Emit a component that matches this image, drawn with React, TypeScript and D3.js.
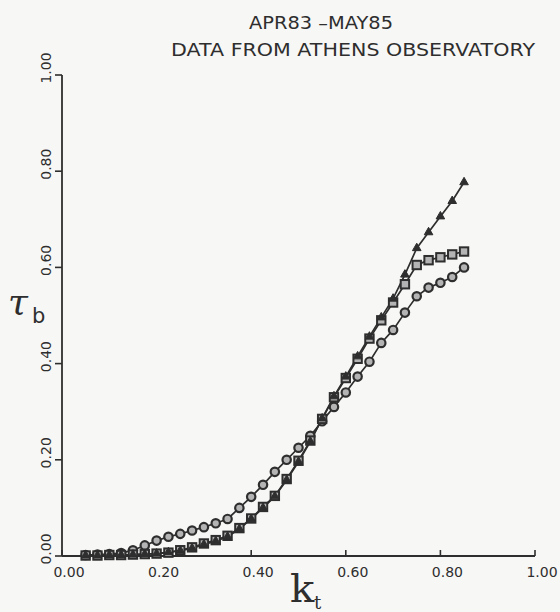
import React from "react";
import * as d3 from "d3";

const kValues = [0.05,0.075,0.1,0.125,0.15,0.175,0.2,0.225,0.25,0.275,0.3,0.325,0.35,0.375,0.4,0.425,0.45,0.475,0.5,0.525,0.55,0.575,0.6,0.625,0.65,0.675,0.7,0.725,0.75,0.775,0.8,0.825,0.85];

const circleSeries = [0.002,0.003,0.004,0.006,0.012,0.022,0.032,0.04,0.046,0.053,0.06,0.068,0.077,0.1,0.123,0.148,0.175,0.2,0.225,0.25,0.28,0.31,0.34,0.373,0.404,0.443,0.47,0.506,0.54,0.558,0.568,0.58,0.6];
const squareSeries = [0.001,0.001,0.002,0.002,0.003,0.004,0.005,0.007,0.012,0.018,0.026,0.033,0.042,0.058,0.078,0.102,0.125,0.16,0.198,0.24,0.285,0.33,0.37,0.41,0.452,0.49,0.527,0.565,0.605,0.615,0.621,0.627,0.633];
const triangleSeries = [0.001,0.001,0.002,0.002,0.003,0.004,0.005,0.008,0.011,0.016,0.024,0.031,0.04,0.056,0.077,0.1,0.124,0.158,0.196,0.238,0.286,0.332,0.373,0.415,0.456,0.496,0.535,0.585,0.64,0.673,0.706,0.738,0.777];

const tickValues = [0, 0.2, 0.4, 0.6, 0.8, 1.0];
const tickLabels = ["0.00", "0.20", "0.40", "0.60", "0.80", "1.00"];
const titleLines = ["APR83 \u2013MAY85", "DATA FROM ATHENS OBSERVATORY"];

const INK = "#2e2e2e";
const FILL = "#b4b4b4";

export default function App() {
  const x = d3.scaleLinear().domain([0, 1]).range([62, 535]);
  const y = d3.scaleLinear().domain([0, 1]).range([556, 75]);
  const line = d3.line<[number, number]>().x(d => x(d[0])).y(d => y(d[1]));
  const mk = (vals: number[]) => kValues.map((k, i) => [k, vals[i]] as [number, number]);
  const circ = mk(circleSeries);
  const sq = mk(squareSeries);
  const tri = mk(triangleSeries);
  const triPath = d3.symbol().type(d3.symbolTriangle).size(32)() as string;
  const font = "'DejaVu Sans', sans-serif";
  return (
    <svg width={560} height={612} style={{ position: "absolute", left: 0, top: 0, background: "#f7f7f5" }}>
      <rect x={0} y={0} width={560} height={612} fill="#f7f7f5" />
      <text x={321} y={29} fontFamily={font} fontSize={17} fill={INK} textAnchor="middle" textLength={144} lengthAdjust="spacingAndGlyphs">{titleLines[0]}</text>
      <text x={353} y={56} fontFamily={font} fontSize={17} fill={INK} textAnchor="middle" textLength={364} lengthAdjust="spacingAndGlyphs">{titleLines[1]}</text>
      {/* axes */}
      <line x1={x(0)} x2={x(1)} y1={y(0)} y2={y(0)} stroke={INK} strokeWidth={1.8} />
      <line x1={x(0)} x2={x(0)} y1={y(0)} y2={y(1)} stroke={INK} strokeWidth={1.8} />
      {tickValues.map((t, i) => (
        <g key={"x" + i}>
          <line x1={x(t)} x2={x(t)} y1={y(0)} y2={y(0) - 6} stroke={INK} strokeWidth={1.6} />
          <text x={x(t) + 7} y={577} fontFamily={font} fontSize={14} fill={INK} textAnchor="middle">{tickLabels[i]}</text>
        </g>
      ))}
      {tickValues.map((t, i) => (
        <g key={"y" + i}>
          <line x1={x(0)} x2={x(0) - 7} y1={y(t)} y2={y(t)} stroke={INK} strokeWidth={1.6} />
          <text transform={`translate(51,${y(t) - 7}) rotate(-90)`} fontFamily={font} fontSize={14} fill={INK} textAnchor="middle">{tickLabels[i]}</text>
        </g>
      ))}
      {/* axis labels */}
      <text x={8} y={314} fontFamily="'DejaVu Serif', serif" fontStyle="italic" fontSize={36} fill={INK}>τ</text>
      <text x={32} y={323} fontFamily="'DejaVu Sans', sans-serif" fontSize={21} fill={INK}>b</text>
      <text x={290} y={602} fontFamily="'DejaVu Serif', serif" fontSize={40} fill={INK}>k</text>
      <text x={314} y={609} fontFamily="'DejaVu Serif', serif" fontSize={18} fill={INK}>t</text>
      {/* lines */}
      <path d={line(circ) || ""} fill="none" stroke={INK} strokeWidth={1.7} />
      <path d={line(sq) || ""} fill="none" stroke={INK} strokeWidth={1.7} />
      <path d={line(tri) || ""} fill="none" stroke={INK} strokeWidth={1.7} />
      {/* markers */}
      {circ.map((d, i) => (
        <circle key={"c" + i} cx={x(d[0])} cy={y(d[1])} r={4.2} fill={FILL} stroke={INK} strokeWidth={2.2} />
      ))}
      {sq.map((d, i) => (
        <rect key={"s" + i} x={x(d[0]) - 4.2} y={y(d[1]) - 4.2} width={8.4} height={8.4} fill={FILL} stroke={INK} strokeWidth={2} />
      ))}
      {tri.map((d, i) => (
        <path key={"t" + i} d={triPath} transform={`translate(${x(d[0])},${y(d[1])})`} fill={INK} stroke={INK} strokeWidth={1} />
      ))}
    </svg>
  );
}
